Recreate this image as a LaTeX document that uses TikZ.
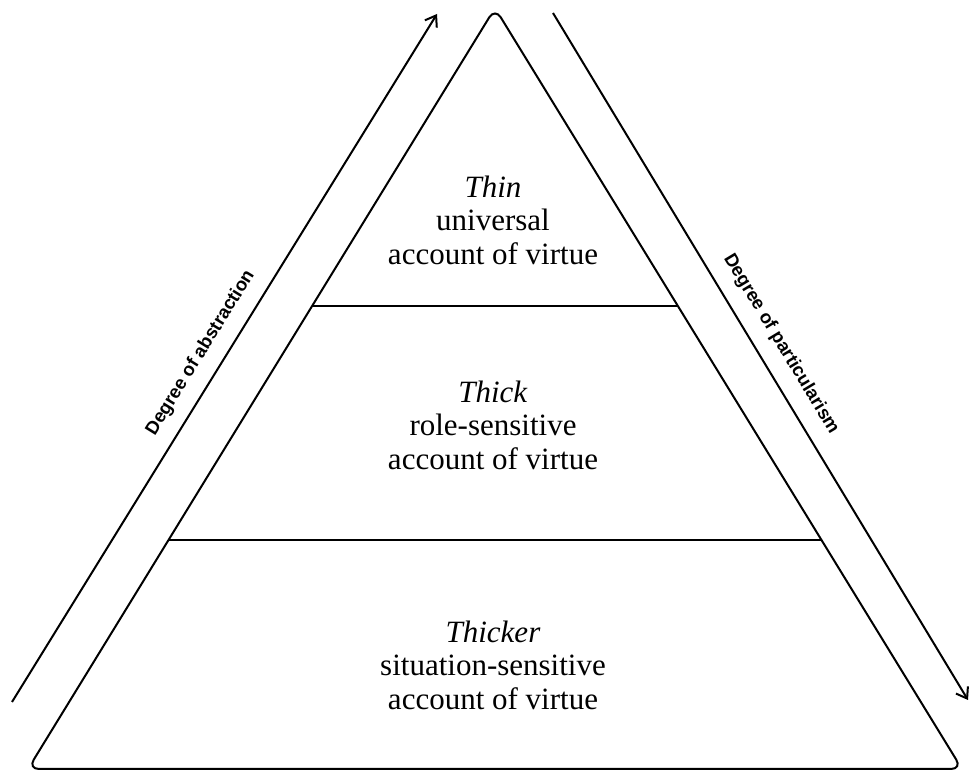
\documentclass[tikz,border=0pt]{standalone}
\usepackage{fontspec}
\setmainfont{Liberation Serif}
\newfontfamily\labelfont{Liberation Sans}
\usetikzlibrary{arrows.meta, calc}

\begin{document}
\begin{tikzpicture}[x=1pt, y=1pt, line width=2pt,
    tier/.style={align=center, font=\fontsize{31}{33.5}\selectfont},
    degree/.style={sloped, font=\labelfont\bfseries\fontsize{18.5}{22}\selectfont},
    degarrow/.style={-{Straight Barb[length=10pt, width=14pt, line width=2pt]}}]
\useasboundingbox (0,0) rectangle (970,771);

% Pyramid
\coordinate (base left) at (28,2);
\coordinate (base right) at (962,2);
\coordinate (apex) at (495,763);
\draw[rounded corners=11pt] (base left) -- (apex) -- (base right) -- cycle;

% Tier borders
\coordinate (upper left) at ($(base left)!0.6084!(apex)$);
\coordinate (upper right) at ($(base right)!0.6084!(apex)$);
\coordinate (lower left) at ($(base left)!0.3009!(apex)$);
\coordinate (lower right) at ($(base right)!0.3009!(apex)$);
\draw[line width=1.6pt] (upper left) -- (upper right);
\draw[line width=1.6pt] (lower left) -- (lower right);

% Tier texts
\node[tier] (thin) at (493,551) {\textit{Thin}\\universal\\account of virtue};
\node[tier] (thick) at (493,346) {\textit{Thick}\\role-sensitive\\account of virtue};
\node[tier] (thicker) at (493,106) {\textit{Thicker}\\situation-sensitive\\account of virtue};

% Side arrows
\coordinate (abstr start) at (12,69);
\coordinate (abstr end) at (437,757);
\draw[degarrow] (abstr start) -- (abstr end)
   node[degree, pos=0.49, above=10pt] {Degree of abstraction};

\coordinate (partic start) at (553,758);
\coordinate (partic end) at (968,71);
\draw[degarrow] (partic start) -- (partic end)
   node[degree, pos=0.50, above=11pt] {Degree of particularism};
\end{tikzpicture}
\end{document}
